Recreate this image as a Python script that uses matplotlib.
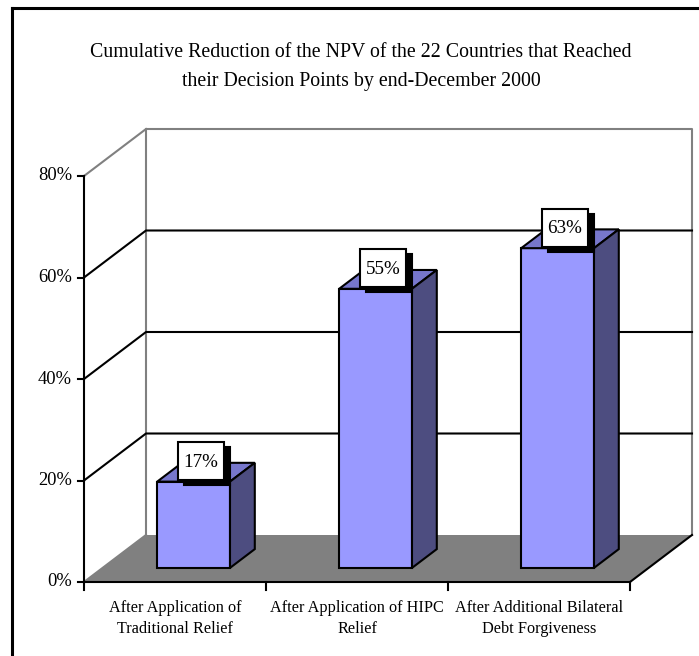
import matplotlib
matplotlib.use("Agg")
import matplotlib.pyplot as plt
from matplotlib.patches import Polygon, Rectangle
from matplotlib.lines import Line2D
from matplotlib.transforms import ScaledTranslation

# ---- data -------------------------------------------------------------
categories = [
    "After Application of\nTraditional Relief",
    "After Application of HIPC\nRelief",
    "After Additional Bilateral\nDebt Forgiveness",
]
values = [17, 55, 63]
value_labels = ["17%", "55%", "63%"]
y_ticks = [0, 20, 40, 60, 80]
y_tick_labels = ["0%", "20%", "40%", "60%", "80%"]
title = ("Cumulative Reduction of the NPV of the 22 Countries that Reached\n"
         "their Decision Points by end-December 2000")

# ---- styling ----------------------------------------------------------
SERIF = ["Liberation Serif", "DejaVu Serif"]
FRONT = "#9999FF"
TOP = "#7777CC"
SIDE = "#4D4D80"
FLOOR = "#808080"
WALL = "#808080"

W, H, DPI = 699, 656, 100
PX = 72.0 / DPI  # points per pixel

fig = plt.figure(figsize=(W / DPI, H / DPI), dpi=DPI)
fig.patch.set_facecolor("white")
ax = fig.add_axes([0, 0, 1, 1])

# front plane: one category = CAT_PX pixels, one percent = PCT_PX pixels
CAT_PX = 182.0
PCT_PX = 5.075
X0, Y0 = 84.0, 582.0
ax.set_xlim(-X0 / CAT_PX, (W - X0) / CAT_PX)
ax.set_ylim(-(H - Y0) / PCT_PX, Y0 / PCT_PX)
ax.axis("off")

# oblique depth shift (depth 0 = front plane, 1 = back wall)
DEPTH_X = 62.0 / CAT_PX
DEPTH_Y = 47.0 / PCT_PX
n = len(categories)
vmax = y_ticks[-1]


def proj(c, v, d):
    return (c + DEPTH_X * d, v + DEPTH_Y * d)


def line(pts, color, lw=1.5, z=1):
    xs, ys = zip(*[proj(*p) for p in pts])
    ax.plot(xs, ys, color=color, lw=lw, zorder=z, solid_capstyle="projecting",
            clip_on=False)


def face(pts, color, z):
    ax.add_patch(Polygon([proj(*p) for p in pts], closed=True, facecolor=color,
                         edgecolor="black", lw=1.5, zorder=z, joinstyle="miter"))


# floor
ax.add_patch(Polygon([proj(0, 0, 0), proj(n, 0, 0), proj(n, 0, 1), proj(0, 0, 1)],
                     closed=True, facecolor=FLOOR, edgecolor="none", zorder=1))

# back wall outline and edges of the side wall
line([(0, 0, 1), (0, vmax, 1), (n, vmax, 1), (n, 0, 1)], WALL, z=2)
line([(0, vmax, 0), (0, vmax, 1)], WALL, z=2)
line([(0, 0, 0), (0, 0, 1)], WALL, z=2)

# gridlines across side and back walls
for v in y_ticks[1:-1]:
    line([(0, v, 0), (0, v, 1), (n, v, 1)], "black", z=2)

# floor right edge
line([(n, 0, 0), (n, 0, 1)], "black", z=2)

# front axes
line([(0, 0, 0), (0, vmax, 0)], "black", z=3)
line([(0, 0, 0), (n, 0, 0)], "black", z=3)
for v, lab in zip(y_ticks, y_tick_labels):
    ax.plot([0, -6 / CAT_PX], [v, v], color="black", lw=1.5, zorder=3,
            clip_on=False)
    ax.text(-12 / CAT_PX, v, lab, ha="right", va="center",
            fontsize=18.5 * PX, family=SERIF)
for i in range(n + 1):
    ax.plot([i, i], [0, -8 / PCT_PX], color="black", lw=1.5, zorder=3,
            clip_on=False)

# category labels
for i, lab in enumerate(categories):
    ax.text(i + 0.5, -18 / PCT_PX, lab, ha="center", va="top",
            fontsize=16.3 * PX, family=SERIF, linespacing=1.4)

# bars
bw, d0, d1 = 0.4, 0.3, 0.7
for i, v in enumerate(values):
    c0 = i + 0.5 - bw / 2
    c1 = i + 0.5 + bw / 2
    z = 5 + i
    face([(c0, 0, d0), (c1, 0, d0), (c1, v, d0), (c0, v, d0)], FRONT, z)
    face([(c0, v, d0), (c1, v, d0), (c1, v, d1), (c0, v, d1)], TOP, z)
    face([(c1, 0, d0), (c1, 0, d1), (c1, v, d1), (c1, v, d0)], SIDE, z)

# value labels: white box with a black drop shadow, sized in pixels
BOX_W, BOX_H = 46.0, 38.0
OFF_X, OFF_Y = -5.0, 11.0      # box centre relative to bar top centre (px, up)
SH_X, SH_Y = 6.0, -5.0         # shadow shift (px)
for i, (v, lab) in enumerate(zip(values, value_labels)):
    ax_x, ax_y = proj(i + 0.5, v, 0.5)
    trans = fig.dpi_scale_trans + ScaledTranslation(ax_x, ax_y, ax.transData)
    for dx, dy, fc, z in [(SH_X, SH_Y, "black", 20), (0, 0, "white", 21)]:
        x = (OFF_X + dx - BOX_W / 2) / DPI
        y = (OFF_Y + dy - BOX_H / 2) / DPI
        ax.add_patch(Rectangle((x, y), BOX_W / DPI, BOX_H / DPI, transform=trans,
                               facecolor=fc, edgecolor="black", lw=1.5,
                               zorder=z, clip_on=False))
    ax.annotate(lab, (ax_x, ax_y), xytext=(OFF_X * PX, (OFF_Y - 1) * PX),
                textcoords="offset points", ha="center", va="center",
                fontsize=19 * PX, family=SERIF, color="black", zorder=22)

# title
fig.text(361 / W, 1 - 43 / H, title, ha="center", va="top", fontsize=19.9 * PX,
         family=SERIF, linespacing=1.7)

# outer frame (left and top edges)
fig.add_artist(Line2D([12 / W, 12 / W], [0, 1 - 8 / H], color="black", lw=2.2))
fig.add_artist(Line2D([12 / W, 1], [1 - 8 / H, 1 - 8 / H], color="black", lw=2.2))

fig.savefig("out.png", dpi=DPI, facecolor="white")
